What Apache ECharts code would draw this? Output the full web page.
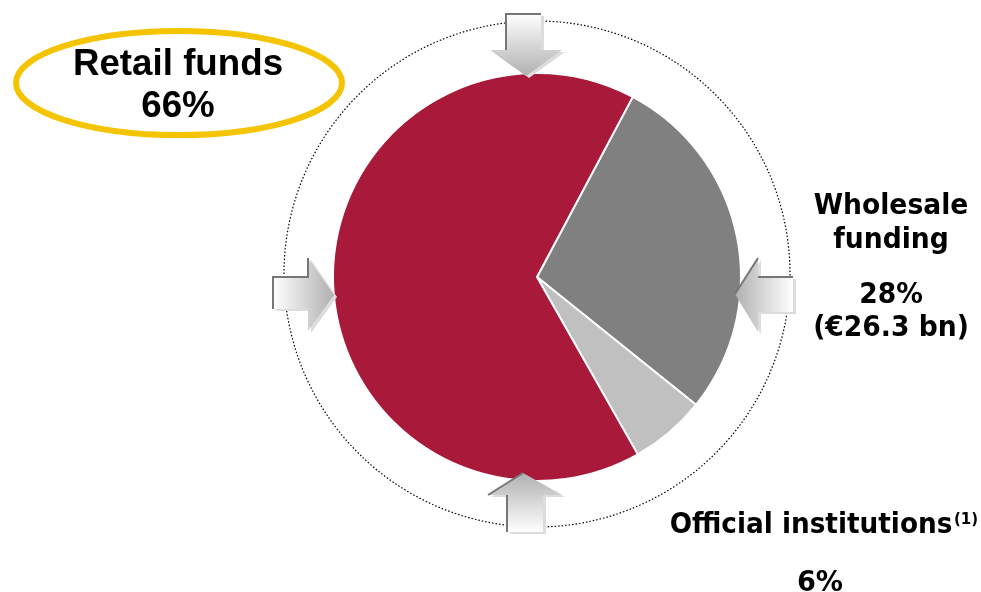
<!DOCTYPE html>
<html>
<head>
<meta charset="utf-8">
<script src="https://cdn.jsdelivr.net/npm/echarts@6/dist/echarts.min.js"></script>
<style>
  html, body { margin: 0; padding: 0; background: #fff; }
  #chart { width: 981px; height: 592px; }
</style>
</head>
<body>
<div id="chart"></div>
<script>
// funding mix
const categories = ['Wholesale funding', 'Official institutions', 'Retail funds']
const shares = [28, 6, 66]
const wholesaleAmount = '(€26.3 bn)'

const sliceColors = ['#808080', '#c0c0c0', '#a8193a']

const labelFont = 'bold 28px "DejaVu Sans"'

function label (txt, x, y, sx, font) {
  return {
    type: 'text', x: x, y: y, scaleX: sx, z: 110,
    style: { text: txt, x: 0, y: 0, font: font || labelFont, fill: '#000',
      textAlign: 'center', textVerticalAlign: 'middle' }
  }
}

// block arrows round the pie
function arrow (pts, edges, grad) {
  let g = [
    { type: 'polygon', z: 100, shape: { points: pts.map(p => [p[0] + 3, p[1] + 2]) },
      style: { fill: '#dcdcdc' } },
    { type: 'polygon', z: 101, shape: { points: pts },
      style: { fill: new echarts.graphic.LinearGradient(grad[0], grad[1], grad[2], grad[3], [
        { offset: 0, color: '#ffffff' }, { offset: 1, color: '#b0b0b0' }]) } }
  ]
  edges.forEach(e => {
    g.push({ type: 'polyline', z: 102, shape: { points: e },
      style: { stroke: '#767676', lineWidth: 2, fill: null } })
  })
  return g
}

let graphics = [
  { type: 'circle', z: 1, shape: { cx: 537, cy: 274, r: 253 },
    style: { fill: null, stroke: '#000', lineWidth: 1.2, lineDash: [1.5, 2] } },
  { type: 'ellipse', z: 105, shape: { cx: 179, cy: 83, rx: 163, ry: 52 },
    style: { fill: '#fff', stroke: '#f5c400', lineWidth: 6 } },
  label('Retail funds', 178, 65, 1.02, 'bold 36px "Liberation Sans"'),
  label(shares[2] + '%', 178, 107, 1.02, 'bold 36px "Liberation Sans"'),
  label('Wholesale', 891, 207, 0.95),
  label('funding', 891, 241, 0.95),
  label(shares[0] + '%', 891, 296, 0.95),
  label(wholesaleAmount, 891, 329, 0.95),
  label('Official institutions', 811, 526, 0.94),
  { type: 'text', x: 966, y: 520, z: 110,
    style: { text: '(1)', x: 0, y: 0, font: 'bold 15px "DejaVu Sans"', fill: '#000',
      textAlign: 'center', textVerticalAlign: 'middle' } },
  label(shares[1] + '%', 820, 584, 0.97)
]

graphics = graphics
  .concat(arrow([[506, 14], [541, 14], [541, 50], [562, 50], [526, 76], [490, 50], [506, 50]],
    [[[506, 50], [506, 14], [541, 14]]], [0, 0, 0, 1]))
  .concat(arrow([[273, 277], [308, 277], [308, 258], [334, 295], [308, 331], [308, 309], [273, 309]],
    [[[273, 309], [273, 277], [308, 277], [308, 258]]], [0, 0, 1, 0]))
  .concat(arrow([[793, 277], [758, 277], [758, 258], [735, 294], [758, 332], [758, 312], [793, 312]],
    [[[793, 277], [758, 277]], [[758, 258], [735, 294]]], [1, 0, 0, 0]))
  .concat(arrow([[507, 532], [543, 532], [543, 495], [562, 495], [523, 473], [488, 495], [507, 495]],
    [[[507, 532], [507, 495]], [[488, 495], [523, 473]]], [0, 1, 0, 0]))

let myChart = echarts.init(document.getElementById('chart'))
myChart.setOption({
  animation: false,
  graphic: graphics,
  series: [
    {
      type: 'pie',
      center: [537, 277],
      radius: 204,
      startAngle: 62,
      clockwise: true,
      silent: true,
      label: { show: false },
      labelLine: { show: false },
      itemStyle: { borderColor: '#fff', borderWidth: 2 },
      data: categories.map((c, i) => ({
        name: c, value: shares[i], itemStyle: { color: sliceColors[i] }
      }))
    }
  ]
})
</script>
</body>
</html>
